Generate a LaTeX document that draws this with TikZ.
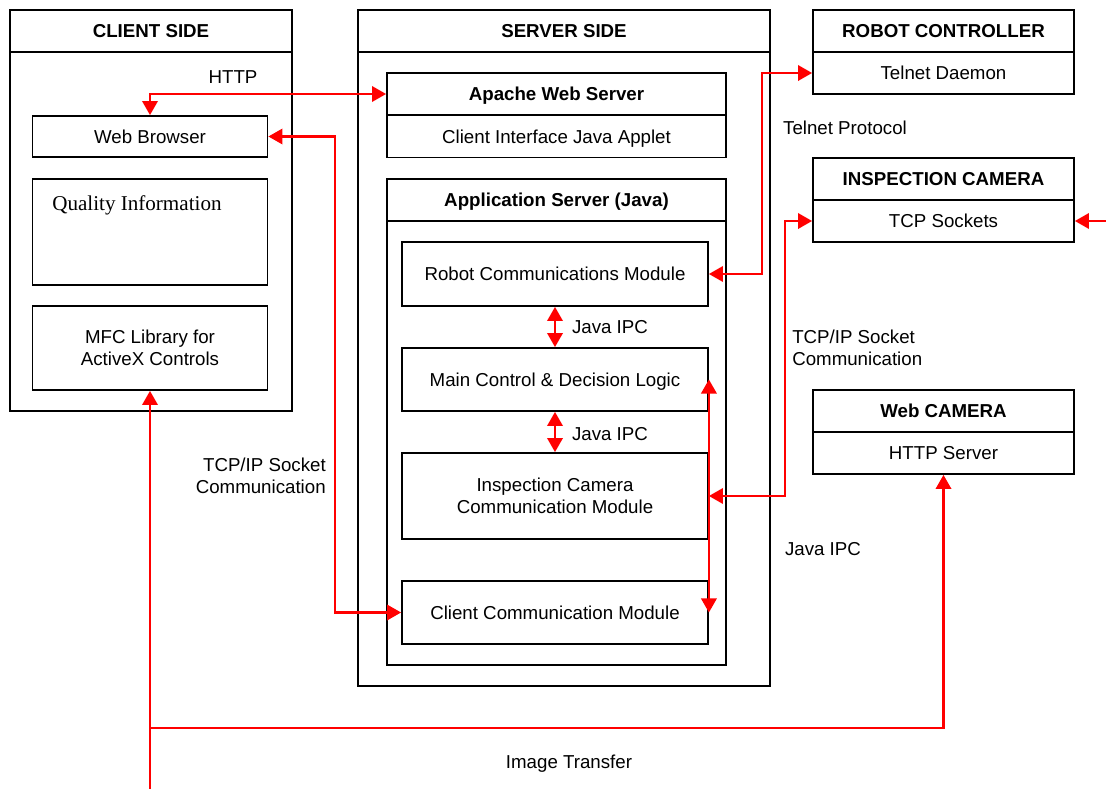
\documentclass[tikz,border=0pt]{standalone}
\usepackage{fontspec}
\setmainfont{Liberation Sans}
\newfontfamily\qualfont{Liberation Serif}
\usetikzlibrary{arrows.meta, positioning}

\begin{document}
\begin{tikzpicture}[
    x=0.025cm, y=-0.025cm,
    >={Triangle[length=10pt, width=11pt]},
    block/.style 2 args={rectangle, draw=black, line width=1.3pt, inner sep=0pt,
                  minimum width=#1*0.025cm, minimum height=#2*0.025cm, align=center,
                  text height=9.6pt, text depth=0pt,
                  font=\fontsize{13.3}{15.6}\selectfont},
    twoline/.style={text height={}, text depth={}},
    head/.style 2 args={block={#1}{#2}, font=\fontsize{13.3}{15.6}\selectfont\bfseries},
    link/.style={draw=red, line width=1.5pt},
    lbl/.style={font=\fontsize{13.3}{15.6}\selectfont, inner sep=0pt},
]
    \useasboundingbox (0,0) rectangle (1106,789);

    % Client side
    \node[head={282}{42}] (cliHead) at (151,31) {CLIENT SIDE};
    \node[block={282}{359}] (cliBody) at (151,231.5) {};
    \node[block={235}{41}] (web) at (150,136.5) {Web Browser};
    \node[block={235}{106}] (quality) at (150,232) {};
    \node[lbl, anchor=west, font=\qualfont\fontsize{15}{18}\selectfont] (qualText) at (52,205) {Quality Information};
    \node[block={235}{84}, twoline] (mfc) at (150,348) {MFC Library for\\ActiveX Controls};

    % Server side
    \node[head={412}{42}] (srvHead) at (564,31) {SERVER SIDE};
    \node[block={412}{634}] (srvBody) at (564,369) {};
    \node[head={339}{42}] (apacheHead) at (556.5,94) {Apache Web Server};
    \node[block={339}{42}] (applet) at (556.5,136.5) {Client Interface Java Applet};
    \node[head={339}{42}] (appHead) at (556.5,200) {Application Server (Java)};
    \node[block={339}{444}] (appBody) at (556.5,443) {};
    \node[block={306}{64}] (robotComm) at (555,274) {Robot Communications Module};
    \node[block={306}{63}] (mainCtrl) at (555,379.5) {Main Control \& Decision Logic};
    \node[block={306}{86}, twoline] (inspComm) at (555,496) {Inspection Camera\\Communication Module};
    \node[block={306}{63}] (cliComm) at (555,612.5) {Client Communication Module};

    % Devices
    \node[head={261}{42}] (robotHead) at (943.5,31) {ROBOT CONTROLLER};
    \node[block={261}{42}] (telnet) at (943.5,73) {Telnet Daemon};
    \node[head={261}{42}] (camHead) at (943.5,179) {INSPECTION CAMERA};
    \node[block={261}{42}] (tcpSock) at (943.5,221) {TCP Sockets};
    \node[head={261}{42}] (webcamHead) at (943.5,411) {Web CAMERA};
    \node[block={261}{42}] (httpSrv) at (943.5,453) {HTTP Server};

    \coordinate (imgIn) at (150,789);
    \coordinate (imgBend) at (150,728);
    \coordinate (camIn) at (1106,221);

    % Connections
    \draw[link, <->] (web.north) |- (apacheHead.west);
    \draw[link, <->] (web.east) -- ++(67,0) |- (cliComm.west);
    \draw[link, <->] (robotComm.east) -- ++(53,0) |- (telnet.west);
    \draw[link, <->] (inspComm.east) -- ++(76,0) |- (tcpSock.west);
    \draw[link, <->] (robotComm.south) -- (mainCtrl.north);
    \draw[link, <->] (mainCtrl.south) -- (inspComm.north);
    \draw[link, <->] (mainCtrl.east) -- (cliComm.east);
    \draw[link, ->] (imgIn) -- (mfc.south);
    \draw[link, ->] (imgBend) -| (httpSrv.south);
    \draw[link, ->] (camIn) -- (tcpSock.east);

    % Labels
    \node[lbl] (httpLbl) at (233,77) {HTTP};
    \node[lbl] (ipcTop) at (610,327) {Java IPC};
    \node[lbl] (ipcMid) at (610,434) {Java IPC};
    \node[lbl] (ipcRight) at (823,549) {Java IPC};
    \node[lbl] (telnetLbl) at (845,128) {Telnet Protocol};
    \node[lbl, anchor=west, align=left] (tcpRight) at (792,348) {TCP/IP Socket\\Communication};
    \node[lbl, anchor=east, align=right] (tcpLeft) at (326,476) {TCP/IP Socket\\Communication};
    \node[lbl] (imgLbl) at (569,764) {Image Transfer};
\end{tikzpicture}
\end{document}
